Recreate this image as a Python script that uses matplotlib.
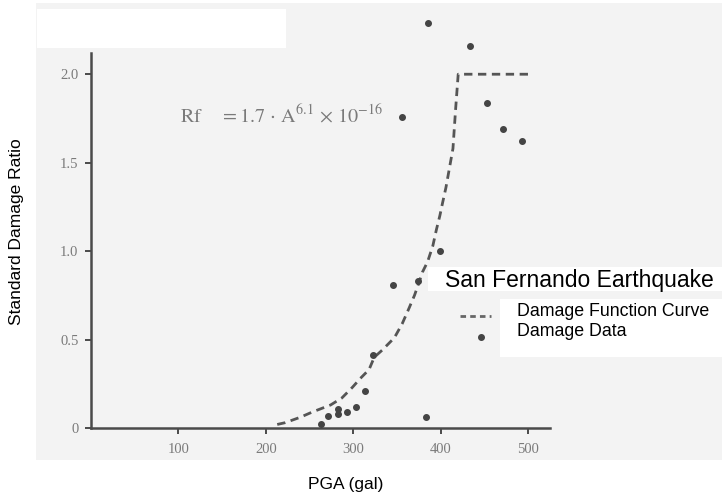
import matplotlib

matplotlib.use("Agg")
import matplotlib.pyplot as plt
from matplotlib.lines import Line2D
from matplotlib.patches import Rectangle

plt.rcParams["mathtext.fontset"] = "stix"

# damage data (PGA in gal, standard damage ratio)
pga = [385, 433, 453, 471, 493, 356, 399, 345, 374, 322, 313, 303, 293, 283, 283, 271, 263, 383]
ratio = [2.29, 2.16, 1.84, 1.69, 1.62, 1.76, 1.00, 0.81, 0.83, 0.41, 0.21, 0.12, 0.09, 0.08, 0.11, 0.07, 0.02, 0.06]

# damage function curve
curve_pga = [213, 222, 239, 253, 274, 287, 299, 308, 318, 324, 333, 347, 356, 364, 370, 375,
             379, 385, 391, 395, 399, 402, 406, 414, 417, 420, 503]
curve_ratio = [0.02, 0.03, 0.06, 0.09, 0.13, 0.17, 0.23, 0.28, 0.33, 0.40, 0.44, 0.51, 0.59, 0.68,
               0.75, 0.82, 0.88, 0.94, 1.03, 1.12, 1.20, 1.27, 1.36, 1.58, 1.80, 2.00, 2.00]

x_ticks = [100, 200, 300, 400, 500]
y_ticks = [0, 0.5, 1.0, 1.5, 2.0]
y_ticklabels = ["0", "0.5", "1.0", "1.5", "2.0"]

W, H = 726, 497
INK = "#4a4a4a"
PRINT = "#7a7a7a"


def fx(px):
    return px / W


def fy(py):
    return 1 - py / H


def box(f, x0, y0, x1, y1, color, z):
    f.patches.append(Rectangle((fx(x0), fy(y1)), fx(x1) - fx(x0), fy(y0) - fy(y1),
                               transform=f.transFigure, facecolor=color,
                               edgecolor="none", zorder=z))


fig = plt.figure(figsize=(W / 100, H / 100), dpi=100)
fig.patch.set_facecolor("white")

# scanned page background + white paste-over box
box(fig, 36, 3, 722, 460, "#f3f3f3", -5)
box(fig, 37, 9, 286, 48, "white", -4)

ax = fig.add_axes([fx(91), fy(428), fx(550) - fx(91), fy(53) - fy(428)])
ax.set_facecolor("none")
ax.set_xlim(0, 525)
ax.set_ylim(0, 2.12)

ax.plot(curve_pga, curve_ratio, color="#555555", lw=2, linestyle=(0, (3, 2)), zorder=3)
ax.plot(pga, ratio, "o", color="#444444", ms=4, zorder=4, clip_on=False)

for side in ("top", "right"):
    ax.spines[side].set_visible(False)
for side in ("left", "bottom"):
    ax.spines[side].set_color(INK)
    ax.spines[side].set_linewidth(1.8)

ax.set_xticks(x_ticks)
ax.set_yticks(y_ticks)
ax.set_yticklabels(y_ticklabels)
ax.tick_params(axis="both", direction="out", length=4, width=1.4, color=INK,
               labelcolor=PRINT, labelsize=10.5)
ax.tick_params(axis="x", pad=7)
ax.tick_params(axis="y", pad=5)
for lab in ax.get_xticklabels() + ax.get_yticklabels():
    lab.set_family("Liberation Serif")

ax.text(0.194, 0.835,
        r"$\mathrm{Rf\ \ \ \ =1.7\,\cdot\,A^{6.1}\,\times\,10^{-16}}$",
        transform=ax.transAxes, fontsize=14.5, color=PRINT, va="center", ha="left")

# axis titles
fig.text(fx(17), fy(232), "Standard Damage Ratio", rotation=90, ha="center", va="center",
         fontsize=12.5, family="Liberation Sans")
fig.text(fx(346), fy(484), "PGA (gal)", ha="center", va="center",
         fontsize=12.5, family="Liberation Sans")

# legend block
box(fig, 428, 267, 726, 291, "white", 5)
box(fig, 500, 299, 726, 357, "white", 5)
fig.text(fx(445), fy(280), "San Fernando Earthquake", ha="left", va="center",
         fontsize=16.5, family="Liberation Sans", zorder=6)
fig.text(fx(517), fy(311), "Damage Function Curve", ha="left", va="center",
         fontsize=12.8, family="Liberation Sans", zorder=6)
fig.text(fx(517), fy(332), "Damage Data", ha="left", va="center",
         fontsize=12.8, family="Liberation Sans", zorder=6)
fig.add_artist(Line2D([fx(460), fx(491)], [fy(316), fy(316)], transform=fig.transFigure,
                      color="#666666", lw=2, linestyle=(0, (2, 1.5))))
fig.add_artist(Line2D([fx(481)], [fy(337)], transform=fig.transFigure, marker="o",
                      color="#444444", ms=4, linestyle="none"))

fig.savefig("out.png", dpi=100)
